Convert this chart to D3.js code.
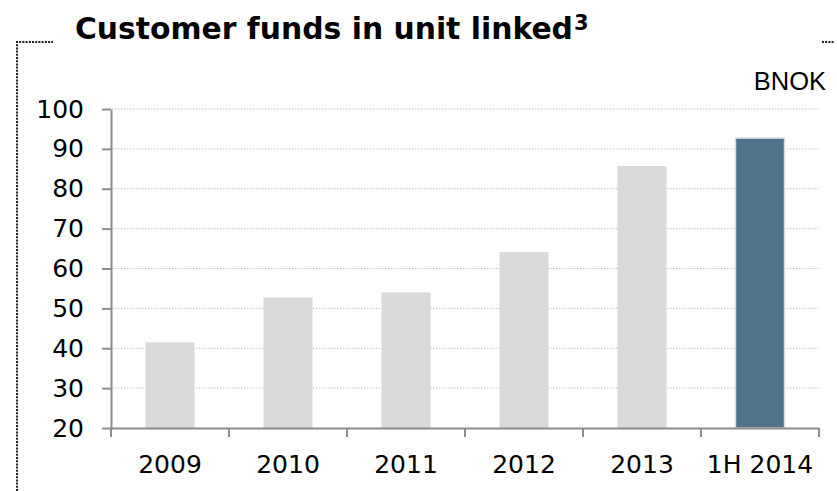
<!DOCTYPE html>
<html>
<head>
<meta charset="utf-8">
<script src="https://cdn.jsdelivr.net/npm/d3@7/dist/d3.min.js"></script>
<style>
  html, body { margin: 0; padding: 0; background: #fff; }
  svg { display: block; }
</style>
</head>
<body>
<svg id="chart" width="837" height="491"></svg>
<script>
// Customer funds in unit linked, BNOK
const categories = ["2009", "2010", "2011", "2012", "2013", "1H 2014"];
const values = [41.5, 52.7, 54.0, 64.1, 85.7, 92.7];
const yTicks = [20, 30, 40, 50, 60, 70, 80, 90, 100];

const svg = d3.select("#chart");
const font = "'DejaVu Sans', Verdana, sans-serif";
const margin = { left: 111, right: 18, top: 109, bottom: 63 };
const W = 837, H = 491;

const x = d3.scaleBand()
  .domain(categories)
  .range([margin.left, W - margin.right])
  .paddingInner(0.585)
  .paddingOuter(0.2925);

const y = d3.scaleLinear()
  .domain([20, 100])
  .range([H - margin.bottom, margin.top]);

// dotted frame around the panel, broken by the title
const frame = svg.append("g")
  .attr("stroke", "#222")
  .attr("stroke-width", 2)
  .attr("stroke-dasharray", "2,1.2")
  .attr("fill", "none");
frame.append("path").attr("d", "M17,491 V42 H53");
frame.append("path").attr("d", "M822,42 H834");

// title with footnote marker
const title = svg.append("text")
  .attr("x", 75).attr("y", 39)
  .attr("font-family", font)
  .attr("font-weight", "bold")
  .attr("font-size", 29.8)
  .attr("fill", "#000");
title.append("tspan").text("Customer funds in unit linked");
title.append("tspan")
  .attr("font-size", 21)
  .attr("dy", -9)
  .attr("dx", 1)
  .text("3");

// unit label
svg.append("text")
  .attr("x", 826).attr("y", 90)
  .attr("text-anchor", "end")
  .attr("font-family", "'Liberation Sans', Arial, sans-serif")
  .attr("font-size", 25.5)
  .attr("fill", "#000")
  .text("BNOK");

// dotted gridlines
svg.append("g")
  .selectAll("line")
  .data(yTicks.filter(d => d > 20))
  .join("line")
  .attr("x1", margin.left + 1)
  .attr("x2", W - margin.right)
  .attr("y1", d => y(d))
  .attr("y2", d => y(d))
  .attr("stroke", "#c2c2c2")
  .attr("stroke-width", 1)
  .attr("stroke-dasharray", "1.5,1.5");

// bars
svg.append("g")
  .selectAll("rect")
  .data(values)
  .join("rect")
  .attr("x", (d, i) => x(categories[i]))
  .attr("width", x.bandwidth())
  .attr("y", d => y(d))
  .attr("height", d => y(20) - y(d))
  .attr("fill", (d, i) => i === values.length - 1 ? "#4f7489" : "#d9d9d9")
  .attr("stroke", (d, i) => i === values.length - 1 ? "#d9d9d9" : "none")
  .attr("stroke-width", 1.5);

// y axis
const yAxis = svg.append("g")
  .attr("transform", `translate(${margin.left},0)`)
  .call(d3.axisLeft(y).tickValues(yTicks).tickSize(9).tickPadding(18).tickSizeOuter(0));

// x axis with ticks at band boundaries
const xAxisG = svg.append("g")
  .attr("transform", `translate(0,${y(20)})`)
  .call(d3.axisBottom(x).tickSize(0).tickPadding(27.5).tickSizeOuter(0));

const step = x.step();
const bounds = d3.range(categories.length + 1).map(i => margin.left + i * step);
xAxisG.selectAll(".bound")
  .data(bounds)
  .join("line")
  .attr("class", "bound")
  .attr("x1", d => d).attr("x2", d => d)
  .attr("y1", 0).attr("y2", 9)
  .attr("stroke", "#8c8c8c")
  .attr("stroke-width", 2);

[yAxis, xAxisG].forEach(g => {
  g.select(".domain").attr("stroke", "#8c8c8c").attr("stroke-width", 2);
  g.selectAll(".tick line").attr("stroke", "#8c8c8c").attr("stroke-width", 2);
  g.selectAll(".tick text")
    .attr("font-family", font)
    .attr("font-size", 25)
    .attr("fill", "#000");
});
</script>
</body>
</html>
